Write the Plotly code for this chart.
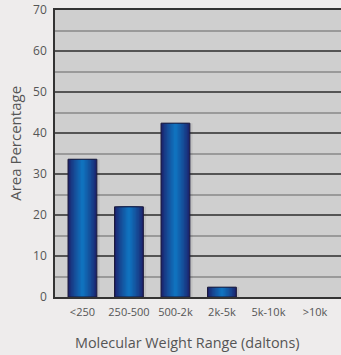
import plotly.graph_objects as go

categories = ["<250", "250-500", "500-2k", "2k-5k", "5k-10k", ">10k"]
area_pct = [33.6, 22.0, 42.4, 2.4, 0.0, 0.0]

FONT = "Open Sans"
BAR_W = 0.62
N = 10
dark = (28, 34, 108)
light = (16, 114, 190)

def mix(a, b, t):
    return "rgb(%d,%d,%d)" % tuple(round(a[i] + (b[i] - a[i]) * t) for i in range(3))

fig = go.Figure()
# soft shadow
fig.add_trace(go.Bar(x=categories, y=area_pct, width=BAR_W, offset=-BAR_W / 2 + 0.06,
                     marker=dict(color="rgba(0,0,0,0.07)", line=dict(width=0))))
# gradient layers
for k in range(N):
    t = k / (N - 1)
    w = BAR_W * (1 - k / N)
    fig.add_trace(go.Bar(x=categories, y=area_pct, width=w,
                         marker=dict(color=mix(dark, light, t ** 0.8), line=dict(width=0))))
# outline
fig.add_trace(go.Bar(x=categories, y=area_pct, width=BAR_W,
                     marker=dict(color="rgba(0,0,0,0)",
                                 line=dict(color="#1a1a3a", width=[1 if v > 0 else 0 for v in area_pct]))))

fig.update_layout(
    width=341, height=355,
    margin=dict(l=55, r=0, t=10, b=58),
    paper_bgcolor="#eeecec", plot_bgcolor="#cfcfcf",
    barmode="overlay", showlegend=False, hovermode=False,
    font=dict(family=FONT, color="#555555", size=11),
    xaxis=dict(range=[-0.59, 5.56], showgrid=False, showline=True, mirror=True, linecolor="#333333",
               linewidth=1.5, ticks="", ticklabelstandoff=4, tickfont=dict(size=11, color="#555555")),
    yaxis=dict(range=[0, 70], dtick=10, showgrid=True, gridcolor="#555555", gridwidth=1.5,
               minor=dict(dtick=5, showgrid=True, gridcolor="#9a9a9a", gridwidth=1.5),
               showline=True, linecolor="#333333", linewidth=1.5, zeroline=False,
               ticks="", ticklabelstandoff=4, tickfont=dict(size=12, color="#555555")),
    annotations=[
        dict(text="Molecular Weight Range (daltons)", xref="paper", yref="paper",
             x=0.463, y=-0.157, xanchor="center", yanchor="middle", showarrow=False,
             font=dict(size=14.4, color="#555555")),
        dict(text="Area Percentage", xref="paper", yref="paper", textangle=-90,
             x=-0.14, y=0.537, xanchor="center", yanchor="middle", showarrow=False,
             font=dict(size=15, color="#555555")),
    ],
)

fig.write_html("out.html", config={"displayModeBar": False},
               post_script="document.body.style.margin='0';document.body.style.overflow='hidden';")
